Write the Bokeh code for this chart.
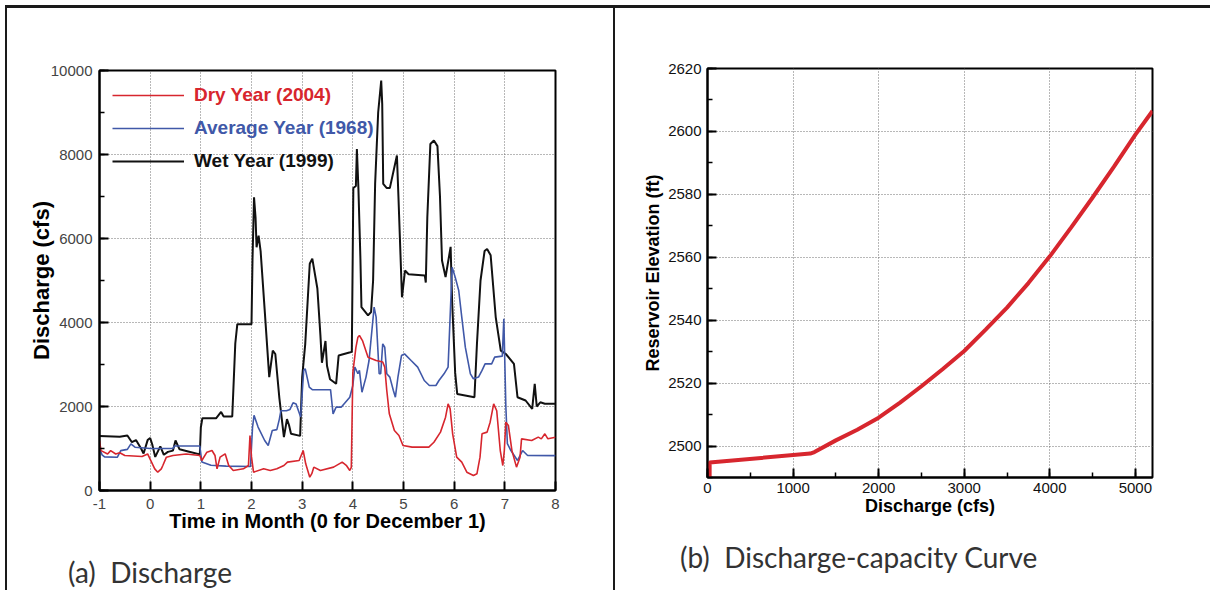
from bokeh.plotting import figure
from bokeh.models import (Legend, LegendItem, Div, SingleIntervalTicker, Range1d)
from bokeh.layouts import row, column
from bokeh.embed import file_html
from bokeh.resources import INLINE

# ---------------- data: (a) discharge time series ----------------
wet_t = [-1.0, -0.6, -0.45, -0.36, -0.28, -0.18, -0.13, -0.05, 0.0, 0.04, 0.1, 0.2, 0.27, 0.35, 0.45, 0.5,
         0.58, 0.75, 0.98, 1.0, 1.03, 1.3, 1.4, 1.45, 1.62, 1.68, 1.72, 2.0, 2.02, 2.05, 2.08, 2.1, 2.14,
         2.18, 2.26, 2.35, 2.42, 2.47, 2.55, 2.64, 2.7, 2.74, 2.78, 2.96, 3.0, 3.06, 3.15, 3.2, 3.3, 3.36,
         3.39, 3.46, 3.49, 3.55, 3.67, 3.72, 3.95, 3.98, 4.01, 4.06, 4.08, 4.11, 4.15, 4.17, 4.3, 4.36,
         4.4, 4.44, 4.5, 4.56, 4.58, 4.6, 4.67, 4.73, 4.87, 4.9, 4.97, 5.03, 5.1, 5.42, 5.44, 5.47, 5.53,
         5.6, 5.67, 5.72, 5.76, 5.83, 5.93, 5.96, 6.02, 6.06, 6.4, 6.45, 6.52, 6.6, 6.65, 6.72, 6.82,
         6.92, 7.02, 7.18, 7.25, 7.41, 7.54, 7.59, 7.63, 7.7, 7.79, 8.0]
wet_q = [1300, 1280, 1310, 1150, 1200, 1000, 880, 1200, 1250, 1100, 800, 1050, 850, 920, 950, 1190,
         980, 930, 860, 1500, 1720, 1720, 1870, 1760, 1760, 3500, 3960, 3960, 5500, 6980, 6500, 5790, 6070,
         5700, 4300, 2700, 3330, 3250, 2200, 1270, 1700, 1560, 1350, 1300, 2700, 3480, 5400, 5520, 4810, 3700,
         3040, 3560, 2970, 2650, 2540, 3215, 3290, 3300, 7200, 7250, 8130, 7200, 5500, 4365, 4170, 4250,
         5000, 7300, 9000, 9760, 9200, 7300, 7200, 7200, 7976, 7000, 4600, 5238, 5150, 5120, 4950, 6500, 8250,
         8333, 8200, 7000, 5476, 5080, 5800, 4500, 2800, 2300, 2220, 3500, 5000, 5700, 5750, 5600, 4130,
         3330, 3250, 3016, 2220, 2143, 1944, 2540, 2000, 2100, 2065, 2065]

avg_t = [-1.0, -0.95, -0.9, -0.65, -0.58, -0.45, -0.38, -0.3, 0.0, 0.45, 0.48, 0.98, 1.02, 1.2, 1.5, 1.98,
         2.02, 2.05, 2.13, 2.26, 2.33, 2.41, 2.5, 2.55, 2.58, 2.69, 2.76, 2.82, 2.88, 2.97, 3.03, 3.06, 3.14,
         3.2, 3.56, 3.61, 3.67, 3.77, 3.94, 4.0, 4.04, 4.1, 4.13, 4.18, 4.26, 4.32, 4.42, 4.46, 4.52, 4.55,
         4.59, 4.63, 4.67, 4.73, 4.8, 4.84, 4.89, 4.96, 5.02, 5.15, 5.28, 5.41, 5.51, 5.64, 5.7, 5.8, 5.88,
         5.96, 6.02, 6.09, 6.15, 6.22, 6.32, 6.38, 6.48, 6.55, 6.61, 6.74, 6.8, 6.95, 6.98, 7.02, 7.05, 7.12,
         7.25, 7.35, 7.45, 8.0]
avg_q = [1000, 850, 800, 790, 950, 980, 1110, 1030, 1000, 1000, 1060, 1060, 680, 600, 580, 570,
         1500, 1790, 1510, 1190, 1070, 1430, 1450, 1700, 1900, 1900, 1930, 2090, 2060, 1750, 2860, 2900, 2460,
         2400, 2400, 1825, 1984, 1984, 2222, 2500, 2940, 2780, 2860, 2340, 2700, 3095, 4365, 4127, 2780, 2780,
         3490, 3410, 2780, 2700, 2380, 2222, 2700, 3214, 3254, 3095, 2937, 2619, 2500, 2500, 2619, 2778, 2937,
         5317, 5080, 4762, 4127, 3413, 2778, 2660, 2700, 2860, 3016, 3016, 3175, 3200, 4090, 2000, 1115, 952,
         714, 952, 834, 830]

dry_t = [-1.0, -0.97, -0.84, -0.78, -0.68, -0.6, -0.5, -0.16, -0.05, 0.09, 0.15, 0.22, 0.25, 0.32, 0.45,
         0.71, 0.98, 1.02, 1.12, 1.22, 1.28, 1.32, 1.38, 1.48, 1.55, 1.64, 1.84, 1.94, 1.97, 2.0, 2.04, 2.24,
         2.37, 2.5, 2.64, 2.71, 2.94, 3.02, 3.07, 3.15, 3.19, 3.23, 3.36, 3.62, 3.79, 3.87, 3.94, 3.97, 4.0,
         4.06, 4.1, 4.13, 4.19, 4.3, 4.46, 4.59, 4.63, 4.67, 4.72, 4.82, 4.91, 4.99, 5.17, 5.5, 5.6, 5.73,
         5.83, 5.88, 5.92, 5.97, 6.05, 6.15, 6.25, 6.38, 6.45, 6.51, 6.55, 6.65, 6.71, 6.78, 6.84, 6.91, 6.96,
         6.99, 7.02, 7.07, 7.14, 7.23, 7.3, 7.33, 7.53, 7.66, 7.72, 7.79, 7.85, 8.0]
dry_q = [1190, 950, 870, 950, 870, 900, 833, 810, 870, 515, 436, 515, 595, 794, 833,
         870, 833, 714, 913, 952, 833, 515, 794, 873, 595, 476, 516, 595, 1310, 800, 436, 516,
         476, 516, 595, 675, 714, 952, 635, 317, 400, 556, 476, 556, 675, 600, 476, 550, 2800,
         3400, 3650, 3690, 3570, 3175, 3095, 3060, 2937, 2381, 1825, 1429, 1310, 1072, 1032, 1032, 1150, 1390,
         1746, 2063, 1950, 1350, 794, 675, 436, 357, 400, 794, 1350, 1390, 1627, 2063, 1900, 952, 595,
         950, 1627, 1550, 950, 556, 794, 1230, 1190, 1270, 1230, 1350, 1230, 1270]

series_names = ["Dry Year (2004)", "Average Year (1968)", "Wet Year (1999)"]

# ---------------- data: (b) discharge-capacity curve ----------------
cap_q = [25, 25, 1200, 1250, 1500, 1750, 2000, 2250, 2500, 2750, 3000, 3250, 3500, 3750, 4000,
         4250, 4500, 4750, 5000, 5200]
cap_e = [2485, 2494.8, 2497.6, 2498.1, 2501.8, 2505.2, 2509.0, 2513.8, 2519.0, 2524.5, 2530.2,
         2537.0, 2544.0, 2551.8, 2560.3, 2569.5, 2579.0, 2588.8, 2599.0, 2606.5]

captions = ["(a)&nbsp; Discharge", "(b)&nbsp; Discharge-capacity Curve"]

RED = "#d7262e"
BLUE = "#4058a8"
BLACK = "#111111"
TICKFONT = "Liberation Sans"


def style_axes(p, tick_color, tick_size, label_size):
    for ax in p.axis:
        ax.axis_line_color = "black"
        ax.axis_line_width = 2
        ax.major_tick_line_color = "black"
        ax.major_tick_line_width = 2
        ax.major_tick_in = 9
        ax.major_tick_out = 0
        ax.minor_tick_line_color = "black"
        ax.minor_tick_line_width = 1.5
        ax.minor_tick_in = 5
        ax.minor_tick_out = 0
        ax.major_label_text_font = TICKFONT
        ax.major_label_text_font_size = tick_size
        ax.major_label_text_color = tick_color
        ax.axis_label_text_font = TICKFONT
        ax.axis_label_text_font_style = "bold"
        ax.axis_label_text_font_size = label_size
        ax.axis_label_text_color = "black"
    for g in (p.xgrid[0], p.ygrid[0]):
        g.grid_line_color = "#707070"
        g.grid_line_dash = "1 2"
        g.grid_line_width = 1


def caption_div(text, width, height, left, top):
    html = ('<div style="margin:0;padding:%dpx 0 0 %dpx;font-family:Lato;font-size:28px;'
            'line-height:34px;color:#333333;white-space:nowrap;">%s</div>' % (top, left, text))
    return Div(text=html, width=width, height=height, margin=(0, 0, 0, 0))


# ---------------- figure (a) ----------------
pa = figure(width=615, height=545, output_backend="svg", toolbar_location=None,
            x_range=Range1d(-1, 8), y_range=Range1d(0, 10000),
            min_border_left=99, min_border_right=60, min_border_top=70, min_border_bottom=55,
            border_fill_color=None, background_fill_color="white",
            outline_line_color="black", outline_line_width=2)
pa.xaxis.ticker = SingleIntervalTicker(interval=1, num_minor_ticks=0)
pa.yaxis.ticker = SingleIntervalTicker(interval=2000, num_minor_ticks=2)
pa.xgrid.ticker = SingleIntervalTicker(interval=1)
pa.ygrid.ticker = SingleIntervalTicker(interval=2000)
pa.xaxis.major_label_overrides = {-1: "-1"}
pa.xaxis.axis_label = "Time in Month (0 for December 1)"
pa.yaxis.axis_label = "Discharge (cfs)"
style_axes(pa, "#444444", "15px", "20px")
pa.yaxis.axis_label_text_font_size = "22px"
pa.xaxis.major_label_standoff = 8
pa.yaxis.major_label_standoff = 7
pa.xaxis.axis_label_standoff = -2
pa.yaxis.axis_label_standoff = -6
pa.xaxis.minor_tick_line_color = None

r_wet = pa.line(wet_t, wet_q, line_color=BLACK, line_width=2)
r_avg = pa.line(avg_t, avg_q, line_color=BLUE, line_width=1.6)
r_dry = pa.line(dry_t, dry_q, line_color=RED, line_width=1.6)

legend_rows = [(series_names[0], r_dry, RED, 383),
               (series_names[1], r_avg, BLUE, 350),
               (series_names[2], r_wet, BLACK, 317)]
for name, rend, col, ypos in legend_rows:
    lg = Legend(items=[LegendItem(label=name, renderers=[rend])],
                location=(13, ypos), margin=0, padding=0, spacing=0,
                glyph_width=72, glyph_height=24, label_height=24, label_standoff=10,
                label_text_font=TICKFONT, label_text_font_style="bold",
                label_text_font_size="19px", label_text_color=col,
                border_line_color=None, background_fill_alpha=0)
    pa.add_layout(lg)

da = caption_div(captions[0], 615, 45, 68, 10)

# ---------------- figure (b) ----------------
pb = figure(width=595, height=530, output_backend="svg", toolbar_location=None,
            x_range=Range1d(0, 5200), y_range=Range1d(2490, 2620),
            min_border_left=92, min_border_right=58, min_border_top=68, min_border_bottom=53,
            border_fill_color=None, background_fill_color="white",
            outline_line_color="black", outline_line_width=2)
pb.xaxis.ticker = SingleIntervalTicker(interval=1000, num_minor_ticks=2)
pb.yaxis.ticker = SingleIntervalTicker(interval=20, num_minor_ticks=2)
pb.xgrid.ticker = SingleIntervalTicker(interval=1000)
pb.ygrid.ticker = SingleIntervalTicker(interval=20)
pb.xaxis.axis_label = "Discharge (cfs)"
pb.yaxis.axis_label = "Reservoir Elevation (ft)"
style_axes(pb, "#111111", "15px", "18px")
pb.xaxis.major_label_standoff = 5
pb.yaxis.major_label_standoff = 6
pb.xaxis.axis_label_standoff = 0
pb.yaxis.axis_label_standoff = 2

pb.line(cap_q, cap_e, line_color=RED, line_width=4)

db = caption_div(captions[1], 595, 60, 65, 10)

layout = row(column(pa, da, spacing=0), column(pb, db, spacing=0), spacing=0)
layout.styles = {
    "background-image": "linear-gradient(#1a1a1a,#1a1a1a), linear-gradient(#1a1a1a,#1a1a1a), linear-gradient(#1a1a1a,#1a1a1a)",
    "background-position": "5px 5px, 5px 5px, 613px 5px",
    "background-size": "1205px 3px, 2px 585px, 2px 585px",
    "background-repeat": "no-repeat",
}
open("out.html", "w").write(file_html(layout, INLINE))
